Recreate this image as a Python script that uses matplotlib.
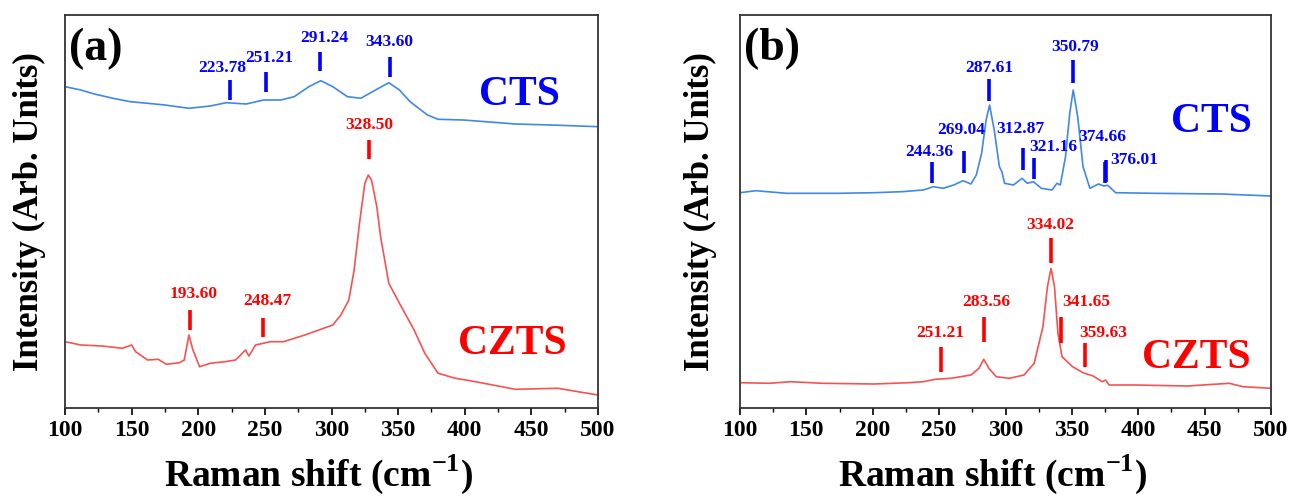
import numpy as np
import matplotlib
matplotlib.use("Agg")
import matplotlib.pyplot as plt

plt.rcParams['font.family'] = ['Liberation Serif', 'DejaVu Serif']
plt.rcParams['font.weight'] = 'bold'
plt.rcParams['mathtext.fontset'] = 'custom'
plt.rcParams['mathtext.rm'] = 'Liberation Serif:bold'
plt.rcParams['mathtext.bf'] = 'Liberation Serif:bold'

# (a) spectra
a_cts_x = [100, 112, 122, 136, 149, 162, 175, 193, 209, 221, 236, 249, 262, 272,
           283, 292, 301, 312, 322, 333, 343, 351, 359, 372, 380, 399, 438, 465, 500]
a_cts_y = [321.3, 318, 314, 309.7, 306.3, 304.7, 303, 299.7, 302, 305.3, 304, 308, 308, 311.3,
           321.3, 327.3, 321.3, 311.3, 309.7, 318, 325.3, 318, 306.3, 293, 288.7, 288, 284, 283, 281.3]

a_czts_x = [100, 112, 128, 143, 150, 153, 162, 170, 176, 186, 189.5, 193, 196, 201, 209, 220,
            228, 235.5, 238, 243, 254, 264, 280, 301, 307, 313, 317, 321, 325, 327.6, 330,
            334, 337, 339.5, 343, 351, 362, 370, 380, 393, 404, 425, 438, 470, 485, 500]
a_czts_y = [66.3, 63, 62, 59.7, 63, 56.3, 48, 48.7, 43.7, 45.3, 48, 73, 58, 41.3, 44.7, 46.3,
            48, 58, 52, 63, 66.3, 66.3, 73, 83, 93, 108, 138, 184.7, 224.7, 233, 228,
            201.3, 169.7, 151.3, 124.7, 104.7, 78, 54.7, 34.7, 29.7, 27.3, 22, 18.7, 19.7, 16.3, 13]

# (b) spectra
b_cts_x = [100, 112, 135, 175, 201, 222, 238, 245.6, 253, 261, 268, 274, 278, 282, 285.4,
           288, 291.5, 295.4, 297.3, 299.3, 306, 312.5, 316.4, 321, 327, 335, 338.7, 341.3,
           345.2, 348.4, 351, 354.4, 358.4, 363.6, 370, 374, 377, 383, 411, 463, 500]
b_cts_y = [215.3, 217.3, 214.7, 214.7, 215.3, 216.3, 218, 221.3, 219.7, 223, 227.3, 224, 233, 254.7, 288,
           303, 278, 241.3, 236.3, 224.7, 223, 229.7, 224.7, 226.3, 219.7, 218, 224.7, 223,
           251.3, 294.7, 318, 291.3, 241.3, 219.7, 224, 222, 222.7, 215.3, 214.7, 214, 212]

b_czts_x = [100, 122, 138, 162, 201, 227, 238, 247, 259, 274, 280, 283.6, 287.5, 293, 303,
            314, 321.6, 328.2, 331.6, 334.3, 336.9, 339.5, 342.6, 350.5, 358.4, 366, 372.8,
            375.4, 378, 398, 437, 468.5, 479, 500]
b_czts_y = [25.3, 24.7, 26.3, 24.7, 24, 25.3, 26.3, 28.7, 29.7, 33, 39.7, 48.7, 39.7, 31.3, 29.7,
            33, 44.7, 81.3, 121.3, 139.7, 121.3, 74.7, 51.3, 41.3, 35.3, 32, 26.3,
            28, 23, 23, 22, 24.7, 21.3, 19.7]

# peak positions
a_cts_peaks = [223.78, 251.21, 291.24, 343.60]
a_czts_peaks = [193.60, 248.47, 328.50]
b_cts_peaks = [244.36, 269.04, 287.61, 312.87, 321.16, 350.79, 374.66, 376.01]
b_czts_peaks = [251.21, 283.56, 334.02, 341.65, 359.63]

# marker layout: (line bottom, line top, label dx, label y)
a_cts_lay = [(308, 328, -6, 340), (316, 336, 2, 350), (337, 356, 3, 370), (331, 351, 0, 366)]
a_czts_lay = [(78, 98, 3, 114), (71, 90, 3, 107), (249, 268, 0, 283)]
b_cts_lay = [(225, 246, -2, 256), (235, 257, -2, 278), (307, 329, 0, 340), (238, 260, -2, 279),
             (229, 250, 15, 261), (325, 348, 2, 361), (225, 246, -2, 271), (226, 248, 21, 248)]
b_czts_lay = [(36, 61, 0, 75), (66, 91, 2, 106), (145, 170, 0, 183), (65, 91, 19, 106),
              (41, 65, 14, 75)]

blue_line = '#4088e6'
red_line = '#f75252'
blue_txt = '#0000ff'
red_txt = '#ff0000'


def mark_peaks(ax, peaks, layout, color):
    for p, (y0, y1, dx, ty) in zip(peaks, layout):
        ax.plot([p, p], [y0, y1], color=color, lw=2.6, solid_capstyle='butt')
        ax.text(p + dx, ty, f'{p:.2f}', color=color, fontsize=12.5,
                fontweight='bold', ha='center', va='center')


fig = plt.figure(figsize=(12.89, 4.99), dpi=100)
ax1 = fig.add_axes([65 / 1289, 91 / 499, 533 / 1289, 393 / 499])
ax2 = fig.add_axes([740 / 1289, 91 / 499, 531 / 1289, 393 / 499])

ax1.plot(a_cts_x, a_cts_y, color=blue_line, lw=1.2)
ax1.plot(a_czts_x, a_czts_y, color=red_line, lw=1.2)
mark_peaks(ax1, a_cts_peaks, a_cts_lay, blue_txt)
mark_peaks(ax1, a_czts_peaks, a_czts_lay, red_txt)
ax1.text(441, 313, 'CTS', color=blue_txt, fontsize=30, fontweight='bold', ha='center', va='center')
ax1.text(436, 64, 'CZTS', color=red_txt, fontsize=30, fontweight='bold', ha='center', va='center')

ax2.plot(b_cts_x, b_cts_y, color=blue_line, lw=1.2)
ax2.plot(b_czts_x, b_czts_y, color=red_line, lw=1.2)
mark_peaks(ax2, b_cts_peaks, b_cts_lay, blue_txt)
mark_peaks(ax2, b_czts_peaks, b_czts_lay, red_txt)
ax2.text(455, 286, 'CTS', color=blue_txt, fontsize=30, fontweight='bold', ha='center', va='center')
ax2.text(444, 50, 'CZTS', color=red_txt, fontsize=30, fontweight='bold', ha='center', va='center')

for ax, tag, lx in [(ax1, '(a)', 19), (ax2, '(b)', 23)]:
    ax.set_xlim(100, 500)
    ax.set_ylim(0, 393)
    ax.set_xticks(np.arange(100, 501, 50))
    ax.set_xticks(np.arange(125, 500, 50), minor=True)
    ax.tick_params(axis='x', which='major', direction='out', length=5, width=1.2,
                   labelsize=17, pad=4)
    ax.tick_params(axis='x', which='minor', direction='out', length=3, width=1.0)
    ax.set_yticks([])
    for sp in ax.spines.values():
        sp.set_linewidth(1.3)
        sp.set_color('#333333')
    for lab in ax.get_xticklabels():
        lab.set_fontweight('bold')
    ax.set_xlabel('Raman shift (cm$^{-1}$)', fontsize=27, fontweight='bold', labelpad=8)
    ax.xaxis.label.set_x(0.475)
    ax.set_ylabel('Intensity (Arb. Units)', fontsize=25, fontweight='bold')
    ax.yaxis.set_label_coords(-lx / 533, 0.5)
    ax.text(0.008, 0.913, tag, transform=ax.transAxes, fontsize=33, fontweight='bold',
            ha='left', va='center')

fig.savefig('out.png', dpi=100)
